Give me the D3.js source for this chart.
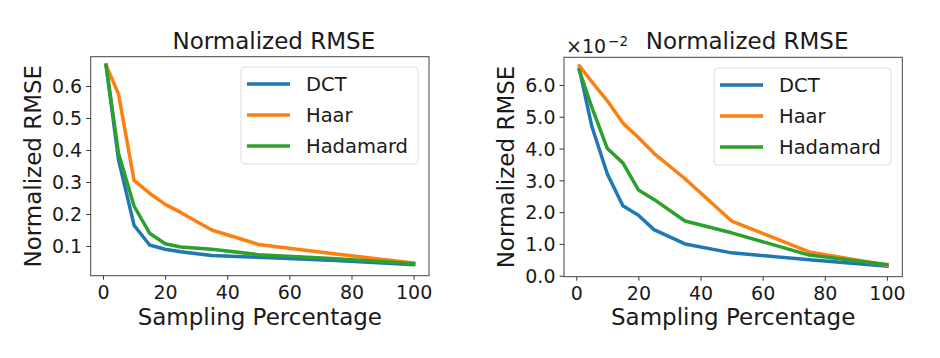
<!DOCTYPE html>
<html><head><meta charset="utf-8">
<script src="https://cdn.jsdelivr.net/npm/d3@7"></script>
<style>body{margin:0;background:#fff}svg{display:block}text{font-family:"DejaVu Sans",sans-serif;fill:#1a1a1a}</style>
</head><body><svg id="c" width="940" height="358"></svg>
<script>
const xs = [1, 5, 10, 15, 20, 25, 35, 50, 75, 100];
const seriesNames = ["DCT", "Haar", "Hadamard"];
const colors = ["#1f77b4", "#ff7f0e", "#2ca02c"];
const leftDCT = [0.665, 0.37, 0.165, 0.103, 0.09, 0.082, 0.07, 0.065, 0.055, 0.042];
const leftHaar = [0.665, 0.575, 0.305, 0.265, 0.23, 0.205, 0.15, 0.105, 0.075, 0.047];
const leftHadamard = [0.665, 0.39, 0.225, 0.14, 0.107, 0.097, 0.09, 0.073, 0.06, 0.045];
const rightDCT = [6.5, 4.7, 3.2, 2.2, 1.9, 1.45, 1.0, 0.72, 0.5, 0.3];
const rightHaar = [6.6, 6.1, 5.5, 4.8, 4.35, 3.85, 3.05, 1.72, 0.75, 0.33];
const rightHadamard = [6.45, 5.3, 4.0, 3.55, 2.7, 2.4, 1.72, 1.35, 0.65, 0.35];
const xTicks = [0, 20, 40, 60, 80, 100];
const leftYTicks = [0.1, 0.2, 0.3, 0.4, 0.5, 0.6];
const rightYTicks = [0, 1, 2, 3, 4, 5, 6];
const title = "Normalized RMSE";
const xLabel = "Sampling Percentage";
const yLabel = "Normalized RMSE";

const svg = d3.select("#c");

function panel(cfg) {
  const g = svg.append("g");
  const x = d3.scaleLinear().domain([-3.95, 104.95]).range([cfg.l, cfg.r]);
  const y = d3.scaleLinear().domain(cfg.yDomain).range([cfg.b, cfg.t]);
  const xa = g.append("g").attr("transform", `translate(0,${cfg.b})`)
    .call(d3.axisBottom(x).tickValues(xTicks).tickSize(4).tickPadding(4).tickFormat(d3.format("d")));
  const ya = g.append("g").attr("transform", `translate(${cfg.l},0)`)
    .call(d3.axisLeft(y).tickValues(cfg.yTicks).tickSize(4.5).tickPadding(4).tickFormat(cfg.fmt));
  [xa, ya].forEach(a => {
    a.select(".domain").remove();
    a.selectAll("line").attr("stroke", "#333");
    a.selectAll("text").style("font-size", "19px").attr("fill", "#1a1a1a")
      .style("font-family", '"DejaVu Sans",sans-serif');
  });
  xa.selectAll("text").attr("dy", "0.79em");
  ya.selectAll("text").attr("dy", "0.36em");
  const line = d3.line().x((d, i) => x(xs[i])).y(d => y(d));
  cfg.series.forEach((s, k) => {
    g.append("path").datum(s).attr("d", line).attr("fill", "none")
      .attr("stroke", colors[k]).attr("stroke-width", 3.5)
      .attr("stroke-linejoin", "round").attr("stroke-linecap", "square");
  });
  g.append("rect").attr("x", cfg.l).attr("y", cfg.t).attr("width", cfg.r - cfg.l).attr("height", cfg.b - cfg.t)
    .attr("fill", "none").attr("stroke", "#444").attr("stroke-width", 1);
  // legend
  const L = cfg.leg;
  g.append("rect").attr("x", L.x).attr("y", L.y).attr("width", L.w).attr("height", L.h)
    .attr("rx", 4).attr("fill", "#fff").attr("fill-opacity", 0.8).attr("stroke", "#ddd");
  seriesNames.forEach((n, k) => {
    const yy = L.y + 17 + k * 31;
    g.append("line").attr("x1", L.x + 6).attr("x2", L.x + 49).attr("y1", yy).attr("y2", yy)
      .attr("stroke", colors[k]).attr("stroke-width", 3.5);
    g.append("text").attr("x", L.x + 65).attr("y", yy).attr("dy", "0.36em").style("font-size", "19.5px").text(n);
  });
  g.append("text").attr("x", (cfg.l + cfg.r) / 2 + 14).attr("y", 49).attr("text-anchor", "middle")
    .style("font-size", "23px").text(title);
  g.append("text").attr("x", (cfg.l + cfg.r) / 2).attr("y", 325).attr("text-anchor", "middle")
    .style("font-size", "23px").text(xLabel);
  g.append("text").attr("transform", `translate(${cfg.yl},${(cfg.t + cfg.b) / 2}) rotate(-90)`)
    .attr("text-anchor", "middle").style("font-size", "23px").text(yLabel);
  return g;
}

panel({l: 90.7, r: 429, t: 56.7, b: 275.7, yDomain: [0.0072, 0.6916], yTicks: leftYTicks,
  fmt: d3.format(".1f"), series: [leftDCT, leftHaar, leftHadamard],
  leg: {x: 241, y: 67, w: 177, h: 97}, yl: 41});
const rp = panel({l: 564, r: 902.3, t: 57.3, b: 276.7, yDomain: [-0.03, 6.87], yTicks: rightYTicks,
  fmt: d3.format(".1f"), series: [rightDCT, rightHaar, rightHadamard],
  leg: {x: 714, y: 68, w: 177, h: 97}, yl: 514});
const off = rp.append("text").attr("x", 566).attr("y", 53).style("font-size", "19px");
off.append("tspan").text("×10");
off.append("tspan").attr("dx", 2).attr("dy", -7).style("font-size", "13.5px").text("−2");
</script></body></html>
